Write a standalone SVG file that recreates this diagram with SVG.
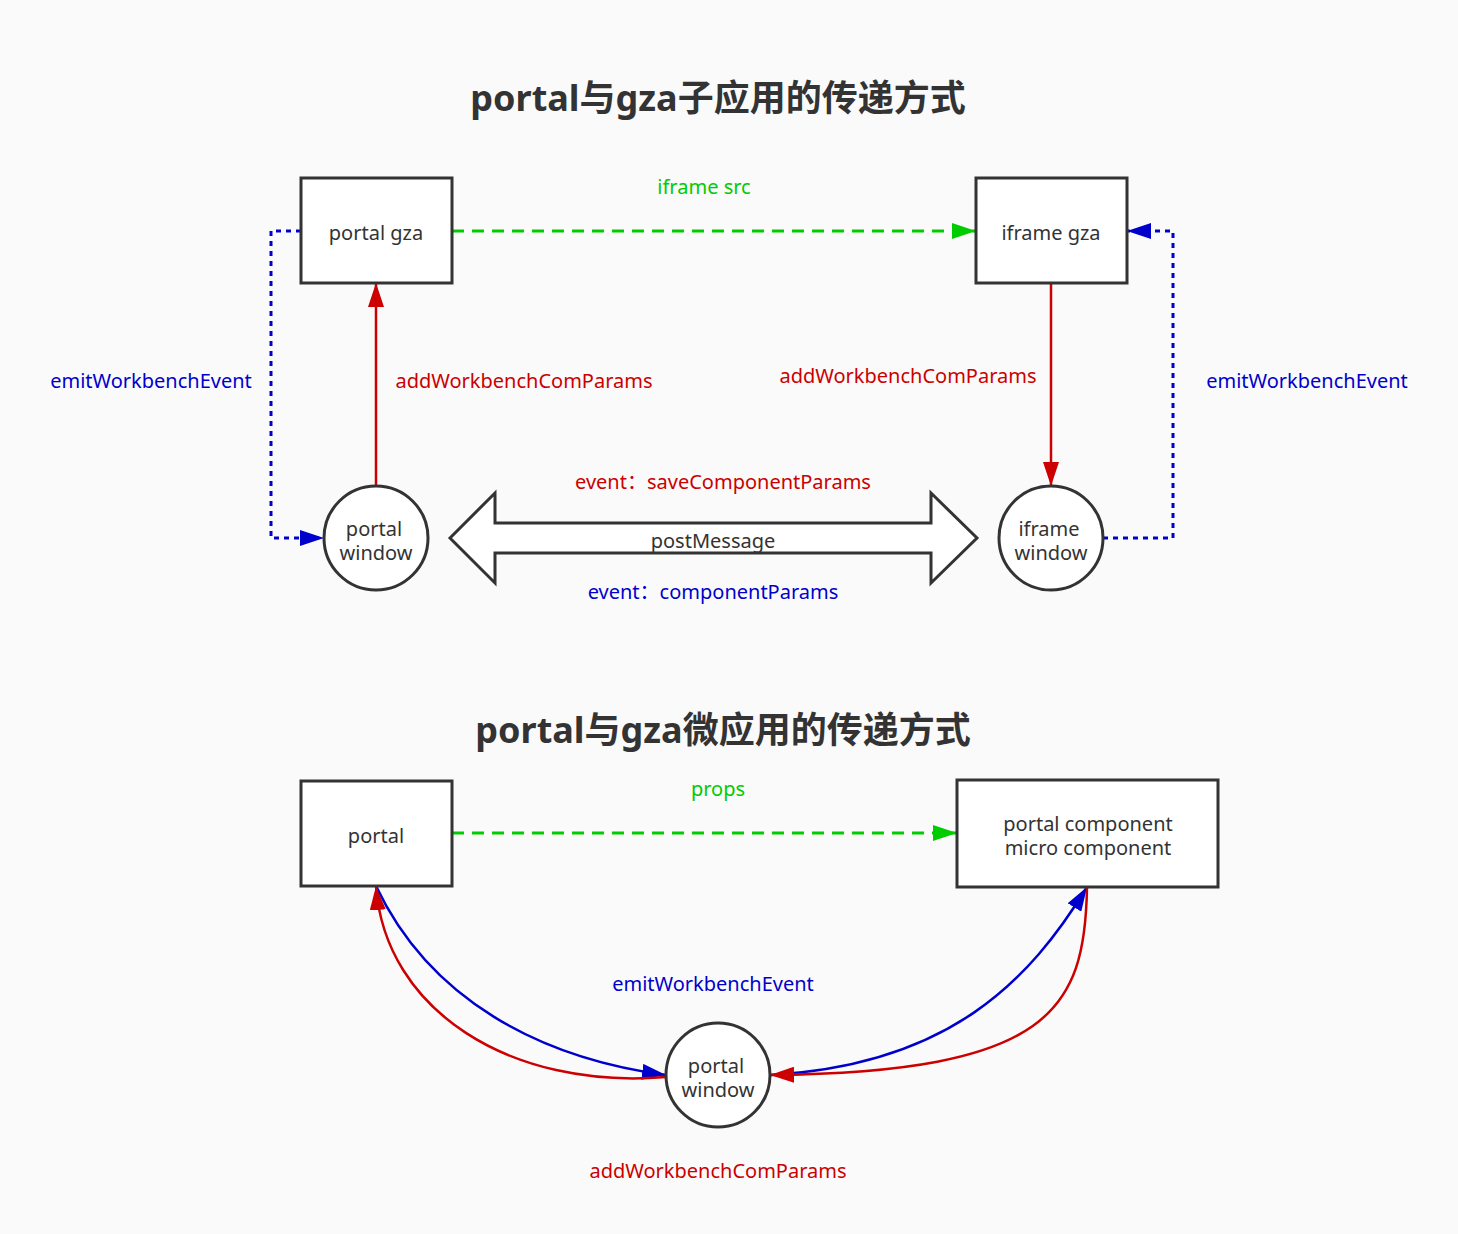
<svg xmlns="http://www.w3.org/2000/svg" width="1458" height="1234" viewBox="0 0 1458 1234">
<defs>
<style>
text{font-family:"Noto Sans","Noto Sans CJK SC",sans-serif;text-anchor:middle}
.title{font-size:36px;font-weight:bold;fill:#333}
.node{fill:#fff;stroke:#333;stroke-width:3}
.nt{font-size:20px;fill:#333}
.lbl{font-size:20px}
.g{fill:#00cc00}.r{fill:#cc0000}.b{fill:#0000cc}
.cg{fill:none;stroke:#00cc00;stroke-width:3;stroke-dasharray:12 8}
.cr{fill:none;stroke:#cc0000;stroke-width:2.5}
.cb{fill:none;stroke:#0000cc;stroke-width:2.5}
.cbd{fill:none;stroke:#0000cc;stroke-width:3;stroke-dasharray:5 5}
</style>
<marker id="agl" markerWidth="24" markerHeight="16" refX="24" refY="8" orient="auto" markerUnits="userSpaceOnUse" viewBox="0 0 24 16"><path d="M0,0 L24,8 L0,16 Z" fill="#00cc00"/></marker>
<marker id="ar" markerWidth="24" markerHeight="16" refX="24" refY="8" orient="auto" markerUnits="userSpaceOnUse" viewBox="0 0 24 16"><path d="M0,0 L24,8 L0,16 Z" fill="#cc0000"/></marker>
<marker id="ab" markerWidth="24" markerHeight="16" refX="24" refY="8" orient="auto" markerUnits="userSpaceOnUse" viewBox="0 0 24 16"><path d="M0,0 L24,8 L0,16 Z" fill="#0000cc"/></marker>
</defs>
<rect width="1458" height="1234" fill="#fafafa"/>
<text class="title" x="718" y="111">portal与gza子应用的传递方式</text>
<text class="title" x="723" y="743">portal与gza微应用的传递方式</text>

<g id="connectors">
<path class="cg" d="M452,231 L976,231" marker-end="url(#agl)"/>
<path class="cr" d="M376,486 L376,283" marker-end="url(#ar)"/>
<path class="cr" d="M1051,283 L1051,486" marker-end="url(#ar)"/>
<path class="cbd" d="M301,231 L271,231 L271,538 L324,538" marker-end="url(#ab)"/>
<path class="cbd" d="M1103,538 L1173,538 L1173,231 L1127,231" marker-end="url(#ab)"/>
<polygon points="450,538 495,493 495,523 931,523 931,493 977,538 931,583 931,553 495,553 495,583" fill="#fff" stroke="#333" stroke-width="3"/>
<path class="cg" d="M452,833 L957,833" marker-end="url(#agl)"/>
<path class="cb" d="M376,886 C430,1000 540,1058 666,1075" marker-end="url(#ab)"/>
<path class="cr" d="M666,1077 C510,1090 385,1010 376,886" marker-end="url(#ar)"/>
<path class="cb" d="M770,1075 C950,1065 1030,980 1087,887" marker-end="url(#ab)"/>
<path class="cr" d="M1087,887 C1085,1010 1050,1072 770,1075" marker-end="url(#ar)"/>
</g>

<text class="lbl g" x="704" y="194">iframe src</text>
<text class="lbl b" x="151" y="388">emitWorkbenchEvent</text>
<text class="lbl r" x="524" y="388">addWorkbenchComParams</text>
<text class="lbl r" x="908" y="383">addWorkbenchComParams</text>
<text class="lbl b" x="1307" y="388">emitWorkbenchEvent</text>
<text class="lbl r" x="723" y="489">event：saveComponentParams</text>
<text class="nt" x="713" y="548">postMessage</text>
<text class="lbl b" x="713" y="599">event：componentParams</text>
<text class="lbl g" x="718" y="796">props</text>
<text class="lbl b" x="713" y="991">emitWorkbenchEvent</text>
<text class="lbl r" x="718" y="1178">addWorkbenchComParams</text>

<g id="portal-gza"><rect class="node" x="301" y="178" width="151" height="105"/><text class="nt" x="376" y="240">portal gza</text></g>
<g id="iframe-gza"><rect class="node" x="976" y="178" width="151" height="105"/><text class="nt" x="1051" y="240">iframe gza</text></g>
<g id="portal-window-1"><circle class="node" cx="376" cy="538" r="52"/><text class="nt"><tspan x="374" y="536">portal</tspan><tspan x="376" y="560">window</tspan></text></g>
<g id="iframe-window"><circle class="node" cx="1051" cy="538" r="52"/><text class="nt"><tspan x="1049" y="536">iframe</tspan><tspan x="1051" y="560">window</tspan></text></g>
<g id="portal"><rect class="node" x="301" y="781" width="151" height="105"/><text class="nt" x="376" y="843">portal</text></g>
<g id="portal-component"><rect class="node" x="957" y="780" width="261" height="107"/><text class="nt"><tspan x="1088" y="831">portal component</tspan><tspan x="1088" y="855">micro component</tspan></text></g>
<g id="portal-window-2"><circle class="node" cx="718" cy="1075" r="52"/><text class="nt"><tspan x="716" y="1073">portal</tspan><tspan x="718" y="1097">window</tspan></text></g>
</svg>
